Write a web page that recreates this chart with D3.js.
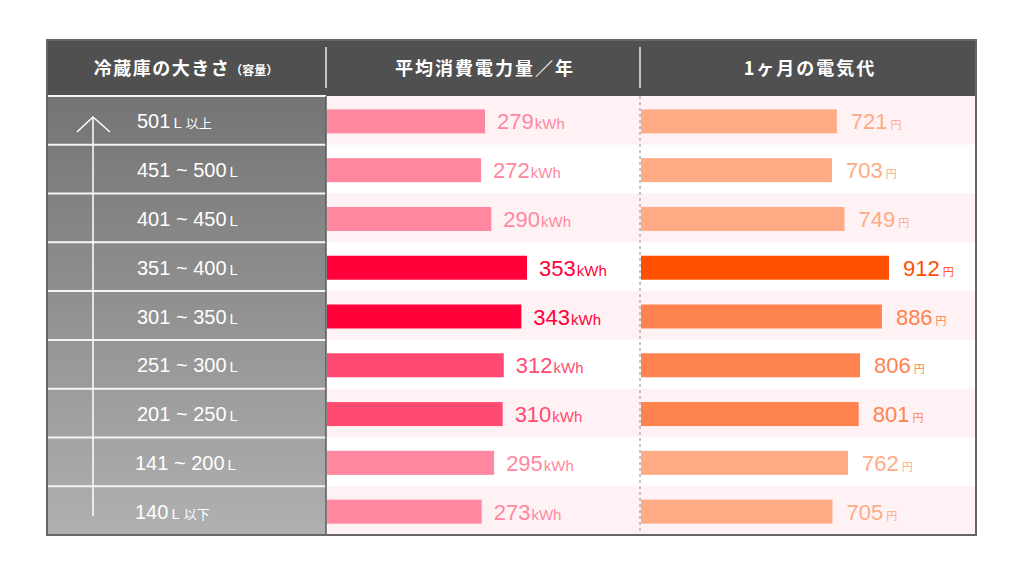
<!DOCTYPE html>
<html>
<head>
<meta charset="utf-8">
<script src="https://cdn.jsdelivr.net/npm/d3@7"></script>
<style>
  body { margin: 0; background: #fff; }
  svg { display: block; font-family: "Noto Sans CJK JP", "Noto Sans", sans-serif; }
  .num { font-family: "Liberation Sans", Arial, sans-serif; }
</style>
</head>
<body>
<div id="chart"></div>
<script>
// table data
const headers = ["冷蔵庫の大きさ", "平均消費電力量／年", "1ヶ月の電気代"];
const sizeMain = ["501", "451 ~ 500", "401 ~ 450", "351 ~ 400", "301 ~ 350", "251 ~ 300", "201 ~ 250", "141 ~ 200", "140"];
const sizeSuffix = ["以上", "", "", "", "", "", "", "", "以下"];
const kwh = [279, 272, 290, 353, 343, 312, 310, 295, 273];
const yen = [721, 703, 749, 912, 886, 806, 801, 762, 705];

const w = 1024, h = 576;
const frameL = 47, frameR = 976, frameT = 40, headH = 56, frameB = 535;
const col1 = 326, col2 = 640;

const svg = d3.select("#chart").append("svg").attr("width", w).attr("height", h);

// gradient for the size column
const grad = svg.append("defs").append("linearGradient").attr("id", "sizeGrad")
    .attr("x1", 0).attr("y1", 0).attr("x2", 0).attr("y2", 1);
grad.append("stop").attr("offset", "0%").attr("stop-color", "#747474");
grad.append("stop").attr("offset", "100%").attr("stop-color", "#b0b0b0");

const rows = d3.range(sizeMain.length);
const y = d3.scaleBand().domain(rows).range([frameT + headH, frameB]);
const xK = d3.scaleLinear().domain([0, 353]).range([col1 + 1, 527]);
const xY = d3.scaleLinear().domain([0, 912]).range([col2, 889]);

const kColor = v => v >= 340 ? "#ff0038" : v >= 300 ? "#ff4b72" : "#ff87a0";
const yColor = v => v >= 900 ? "#ff4f00" : v >= 800 ? "#ff834f" : "#ffab86";

// header
svg.append("rect").attr("x", frameL).attr("y", frameT).attr("width", frameR - frameL).attr("height", headH).attr("fill", "#505050");
[col1, col2].forEach(x => {
    svg.append("line").attr("x1", x).attr("x2", x).attr("y1", frameT + 7).attr("y2", frameT + 48)
        .attr("stroke", "#e8e8e8").attr("stroke-width", 1.5);
});
const h1 = svg.append("text").attr("x", 186).attr("y", frameT + 35).attr("text-anchor", "middle")
    .attr("fill", "#fff").style("font-size", "18px").style("font-weight", "bold");
h1.append("tspan").text(headers[0]).style("letter-spacing", "1.5px");
h1.append("tspan").text("（容量）").style("font-size", "12px");
svg.append("text").attr("x", (col1 + col2) / 2 + 2).attr("y", frameT + 35).attr("text-anchor", "middle")
    .attr("fill", "#fff").style("font-size", "18px").style("font-weight", "bold").style("letter-spacing", "2px")
    .text(headers[1]);
svg.append("text").attr("x", (col2 + frameR) / 2 + 2).attr("y", frameT + 35).attr("text-anchor", "middle")
    .attr("fill", "#fff").style("font-size", "18px").style("font-weight", "bold").style("letter-spacing", "2px")
    .text(headers[2]);

// row stripes
svg.selectAll("rect.stripe").data(rows).enter().append("rect")
    .attr("class", "stripe")
    .attr("x", col1).attr("width", frameR - col1)
    .attr("y", d => y(d)).attr("height", y.bandwidth())
    .attr("fill", d => d % 2 === 0 ? "#fff2f4" : "#fff");

// size column
svg.append("rect").attr("x", frameL).attr("y", frameT + headH).attr("width", col1 - frameL).attr("height", frameB - frameT - headH)
    .attr("fill", "url(#sizeGrad)");
svg.selectAll("line.sep").data(rows).enter().append("line")
    .attr("class", "sep")
    .attr("x1", frameL).attr("x2", col1)
    .attr("y1", d => y(d)).attr("y2", d => y(d))
    .attr("stroke", "#f4f4f4").attr("stroke-width", 2);
svg.append("line").attr("x1", col1).attr("x2", col1).attr("y1", frameT + headH).attr("y2", frameB)
    .attr("stroke", "#5a5a5a").attr("stroke-width", 1.5);

// arrow
svg.append("line").attr("x1", 93).attr("x2", 93).attr("y1", 117).attr("y2", 516)
    .attr("stroke", "#fff").attr("stroke-width", 1.5);
svg.append("path").attr("d", "M77,132 L93,117 L110,132").attr("fill", "none")
    .attr("stroke", "#fff").attr("stroke-width", 1.5);

const sz = svg.selectAll("text.size").data(rows).enter().append("text")
    .attr("class", "size")
    .attr("x", d => d === 7 || d === 8 ? 135 : 137)
    .attr("y", d => y(d) + y.bandwidth() / 2 + 8)
    .attr("fill", "#fff");
sz.append("tspan").attr("class", "num").text(d => sizeMain[d]).style("font-size", "20px");
sz.append("tspan").attr("class", "num").attr("dx", 3).text("L").style("font-size", "15px");
sz.append("tspan").attr("dx", 4).text(d => sizeSuffix[d]).style("font-size", "13px");

// dashed divider
svg.append("line").attr("x1", col2).attr("x2", col2).attr("y1", frameT + headH).attr("y2", frameB)
    .attr("stroke", "#8c8c8c").attr("stroke-width", 1).attr("stroke-dasharray", "3,3");

const barH = 24;
// kWh bars
svg.selectAll("rect.kwh").data(rows).enter().append("rect")
    .attr("class", "kwh")
    .attr("x", xK(0)).attr("y", d => y(d) + (y.bandwidth() - barH) / 2 + 1)
    .attr("width", d => xK(kwh[d]) - xK(0)).attr("height", barH)
    .attr("fill", d => kColor(kwh[d]));
const kt = svg.selectAll("text.kwh").data(rows).enter().append("text")
    .attr("class", "kwh num")
    .attr("x", d => xK(kwh[d]) + 12)
    .attr("y", d => y(d) + y.bandwidth() / 2 + 9)
    .attr("fill", d => kColor(kwh[d]));
kt.append("tspan").text(d => kwh[d]).style("font-size", "22px");
kt.append("tspan").attr("dx", 1).text("kWh").style("font-size", "15px");

// yen bars
svg.selectAll("rect.yen").data(rows).enter().append("rect")
    .attr("class", "yen")
    .attr("x", xY(0) + 1).attr("y", d => y(d) + (y.bandwidth() - barH) / 2 + 1)
    .attr("width", d => xY(yen[d]) - xY(0) - 1).attr("height", barH)
    .attr("fill", d => yColor(yen[d]));
const yt = svg.selectAll("text.yen").data(rows).enter().append("text")
    .attr("class", "yen")
    .attr("x", d => xY(yen[d]) + 14)
    .attr("y", d => y(d) + y.bandwidth() / 2 + 9)
    .attr("fill", d => yColor(yen[d]));
yt.append("tspan").attr("class", "num").text(d => yen[d]).style("font-size", "22px");
yt.append("tspan").attr("dx", 3).text("円").style("font-size", "11px");

// outer frame
svg.append("rect").attr("x", frameL).attr("y", frameT).attr("width", frameR - frameL).attr("height", frameB - frameT)
    .attr("fill", "none").attr("stroke", "#666").attr("stroke-width", 2);
</script>
</body>
</html>
